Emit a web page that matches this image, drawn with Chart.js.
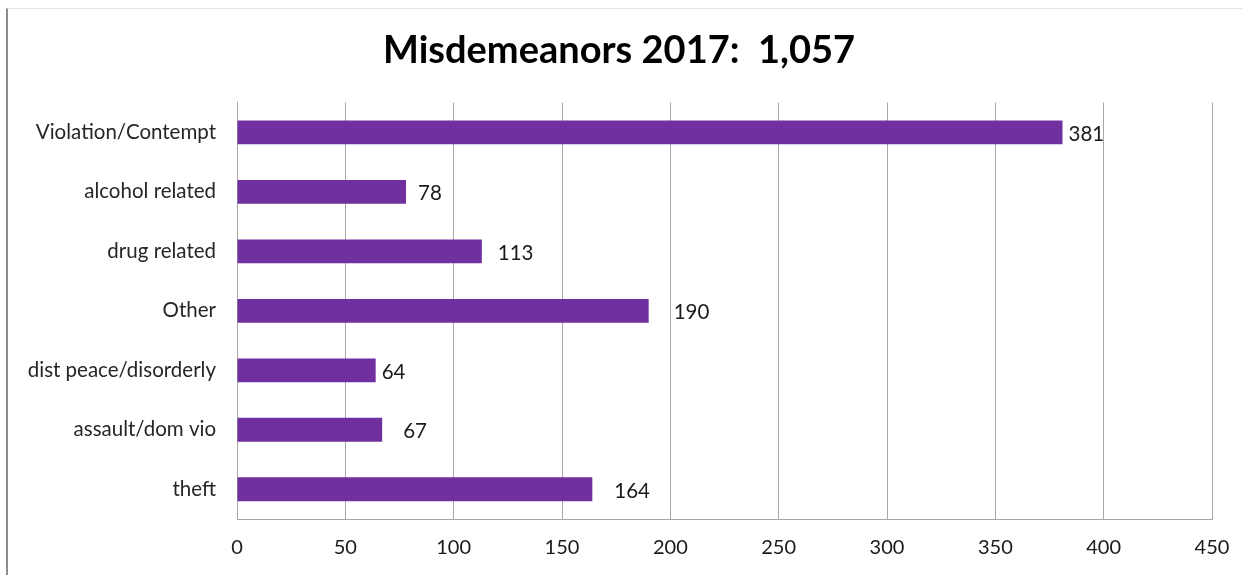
<!DOCTYPE html>
<html>
<head>
<meta charset="utf-8">
<title>Misdemeanors 2017</title>
<script src="https://cdn.jsdelivr.net/npm/chart.js@4/dist/chart.umd.min.js"></script>
<style>
  html, body { margin: 0; padding: 0; background: #fff; }
  #frame {
    position: absolute; left: 6px; top: 8px; width: 1236px; height: 567px;
    border-left: 2px solid #8c8c8c; border-top: 1px solid #e4e4e4;
    box-sizing: border-box;
  }
  #wrap { position: absolute; left: 0; top: 0; width: 1242px; height: 575px; }
</style>
</head>
<body>
<div id="frame"></div>
<div id="wrap"><canvas id="chart" width="1242" height="575"></canvas></div>
<script>
// ── Data ────────────────────────────────────────────────────────────────────
const categories = [
  'Violation/Contempt',
  'alcohol related',
  'drug related',
  'Other',
  'dist peace/disorderly',
  'assault/dom vio',
  'theft',
];
const counts = [381, 78, 113, 190, 64, 67, 164];
const titleText = 'Misdemeanors 2017:  1,057';

const FONT = "Lato, 'Open Sans', sans-serif";
const GRID = '#a6a6a6';
const BAR = '#7030a0';

// small nudges so the value labels sit where they did in the workbook
const labelNudge = [6, 12, 16, 25, 6, 21, 22];

const valueLabels = {
  id: 'valueLabels',
  afterDatasetsDraw(chart) {
    const { ctx } = chart;
    const meta = chart.getDatasetMeta(0);
    ctx.save();
    ctx.font = `20.5px ${FONT}`;
    ctx.fillStyle = '#1a1a1a';
    ctx.textAlign = 'left';
    ctx.textBaseline = 'middle';
    meta.data.forEach((bar, i) => {
      ctx.fillText(String(counts[i]), bar.x + labelNudge[i], bar.y + 2);
    });
    ctx.restore();
  },
};

new Chart(document.getElementById('chart'), {
  type: 'bar',
  data: {
    labels: categories,
    datasets: [{
      data: counts,
      backgroundColor: BAR,
      borderWidth: 0,
      barPercentage: 0.4,
      categoryPercentage: 1,
    }],
  },
  options: {
    indexAxis: 'y',
    responsive: false,
    animation: false,
    layout: { padding: { left: 26, right: 30, top: 0, bottom: 0 } },
    plugins: {
      legend: { display: false },
      tooltip: { enabled: false },
      title: {
        display: true,
        text: titleText,
        color: '#000',
        font: { family: FONT, size: 38, weight: 'bold' },
        padding: { top: 28, bottom: 29 },
      },
    },
    scales: {
      x: {
        min: 0,
        max: 450,
        ticks: { stepSize: 50, color: '#1a1a1a', padding: 17, font: { family: FONT, size: 20 } },
        grid: { color: GRID, drawTicks: false },
        border: { color: GRID },
        afterFit: s => {
          s.height = 56;
          // end labels fit inside the layout padding already
          s.paddingLeft = 0;
          s.paddingRight = 0;
        },
      },
      y: {
        ticks: { color: '#262626', padding: 21, font: { family: FONT, size: 20.5 } },
        grid: { display: false, drawTicks: false },
        border: { color: GRID },
        afterFit: s => { s.width = 211; },
      },
    },
  },
  plugins: [valueLabels],
});
</script>
</body>
</html>
